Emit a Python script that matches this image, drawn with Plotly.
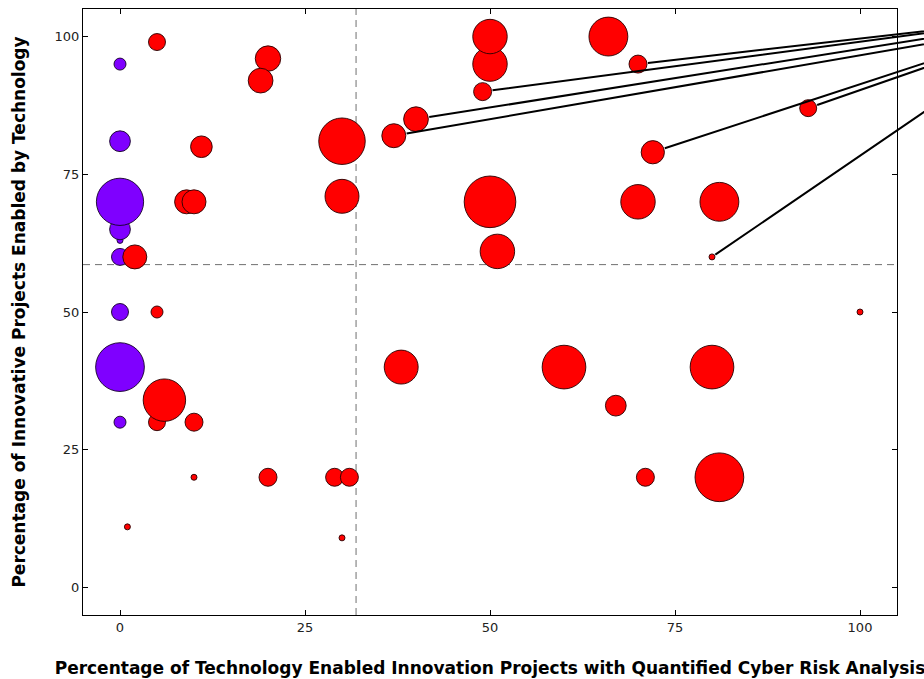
import numpy as np
import plotly.graph_objects as go

# ---- data -------------------------------------------------------------
# group with 0% quantified analysis (purple)
purple_x = [0, 0, 0, 0, 0, 0, 0, 0, 0]
purple_y = [95, 81, 63, 65, 70, 60, 50, 40, 30]
purple_n = [4, 12, 1, 12, 62, 8, 8, 66, 4]

# remaining organisations (red)
red_x = [5, 20, 19, 30, 37, 40, 11, 9, 10, 30, 2, 50, 50, 49, 66, 70, 93, 72,
         50, 70, 81, 51, 80, 5, 5, 6, 10, 10, 20, 29, 31, 1, 30, 38, 60, 80,
         67, 71, 81, 100]
red_y = [99, 96, 92, 81, 82, 85, 80, 70, 70, 71, 60, 95, 100, 90, 100, 95, 87, 79,
         70, 70, 70, 61, 60, 50, 30, 34, 30, 20, 20, 20, 20, 11, 9, 40, 40, 40,
         33, 20, 20, 50]
red_n = [8, 18, 17, 60, 16, 17, 13, 16, 16, 32, 16, 33, 33, 9, 42, 9, 8, 15,
         74, 33, 42, 33, 1, 4, 8, 50, 9, 1, 9, 9, 9, 1, 1, 32, 53, 53,
         12, 9, 66, 1]

# reference (average) lines
x_ref = 31.9
y_ref = 58.6

# labelled points and where their (off-canvas) labels sit
label_px = [70, 49, 40, 37, 72, 93, 80]
label_py = [95, 90, 85, 82, 79, 87, 60]
label_n = [9, 9, 17, 16, 15, 8, 1]
label_tx = [113, 113, 113, 113, 113, 113, 113]
label_ty = [101.65, 101.36, 100.52, 99.6, 97.08, 96.36, 90.3]

x_ticks = [0, 25, 50, 75, 100]
y_ticks = [0, 25, 50, 75, 100]

x_title = "Percentage of Technology Enabled Innovation Projects with Quantified Cyber Risk Analysis"
y_title = "Percentage of Innovative Projects Enabled by Technology"

# ---- figure -----------------------------------------------------------
SIZEREF = 1.0 / 18.0  # radius(px) = 3*sqrt(n)

fig = go.Figure()
fig.add_trace(go.Scatter(
    x=purple_x, y=purple_y, mode="markers",
    marker=dict(size=purple_n, sizemode="area", sizeref=SIZEREF, opacity=1,
                color="#7f00ff", line=dict(color="rgba(20,0,40,0.9)", width=1)),
    showlegend=False, hoverinfo="x+y"))
fig.add_trace(go.Scatter(
    x=red_x, y=red_y, mode="markers",
    marker=dict(size=red_n, sizemode="area", sizeref=SIZEREF, opacity=1,
                color="#ff0000", line=dict(color="rgba(40,0,0,0.9)", width=1)),
    showlegend=False, hoverinfo="x+y"))

# dashed reference lines (below markers)
fig.add_shape(type="line", xref="x", yref="paper", x0=x_ref, x1=x_ref, y0=0, y1=1,
              line=dict(color="#707070", width=1, dash="7px,5px"), layer="below")
fig.add_shape(type="line", xref="paper", yref="y", x0=0, x1=1, y0=y_ref, y1=y_ref,
              line=dict(color="#707070", width=1, dash="7px,5px"), layer="below")

# leader lines to labels outside the visible area
for px, py, n, tx, ty in zip(label_px, label_py, label_n, label_tx, label_ty):
    fig.add_annotation(
        x=px, y=py, xref="x", yref="y",
        ax=tx, ay=ty, axref="x", ayref="y",
        text=" ", showarrow=True, arrowhead=0, arrowwidth=2,
        arrowcolor="black", standoff=3 * np.sqrt(n) + 1)

axis_common = dict(
    showgrid=False, zeroline=False, showline=True, linecolor="black", linewidth=1,
    mirror="ticks", ticks="inside", ticklen=5, tickcolor="black", tickwidth=1,
    tickfont=dict(family="DejaVu Sans", size=13, color="#222222"),
)

fig.update_xaxes(range=[-5, 105], tickvals=x_ticks, ticktext=[str(v) for v in x_ticks],
                 title=dict(text=x_title, standoff=28,
                            font=dict(family="DejaVu Sans", size=17, color="black", weight="bold")),
                 **axis_common)
fig.update_yaxes(range=[-5, 105], tickvals=y_ticks, ticktext=[str(v) for v in y_ticks],
                 title=dict(text=y_title, standoff=24,
                            font=dict(family="DejaVu Sans", size=17, color="black", weight="bold")),
                 **axis_common)

fig.update_layout(
    width=924, height=679,
    margin=dict(l=83, r=27, t=9, b=64, autoexpand=False),
    plot_bgcolor="white", paper_bgcolor="white",
    font=dict(family="DejaVu Sans"),
)

fig.write_html("out.html", config={"displayModeBar": False},
               post_script="document.body.style.margin='0';document.body.style.padding='0';")
